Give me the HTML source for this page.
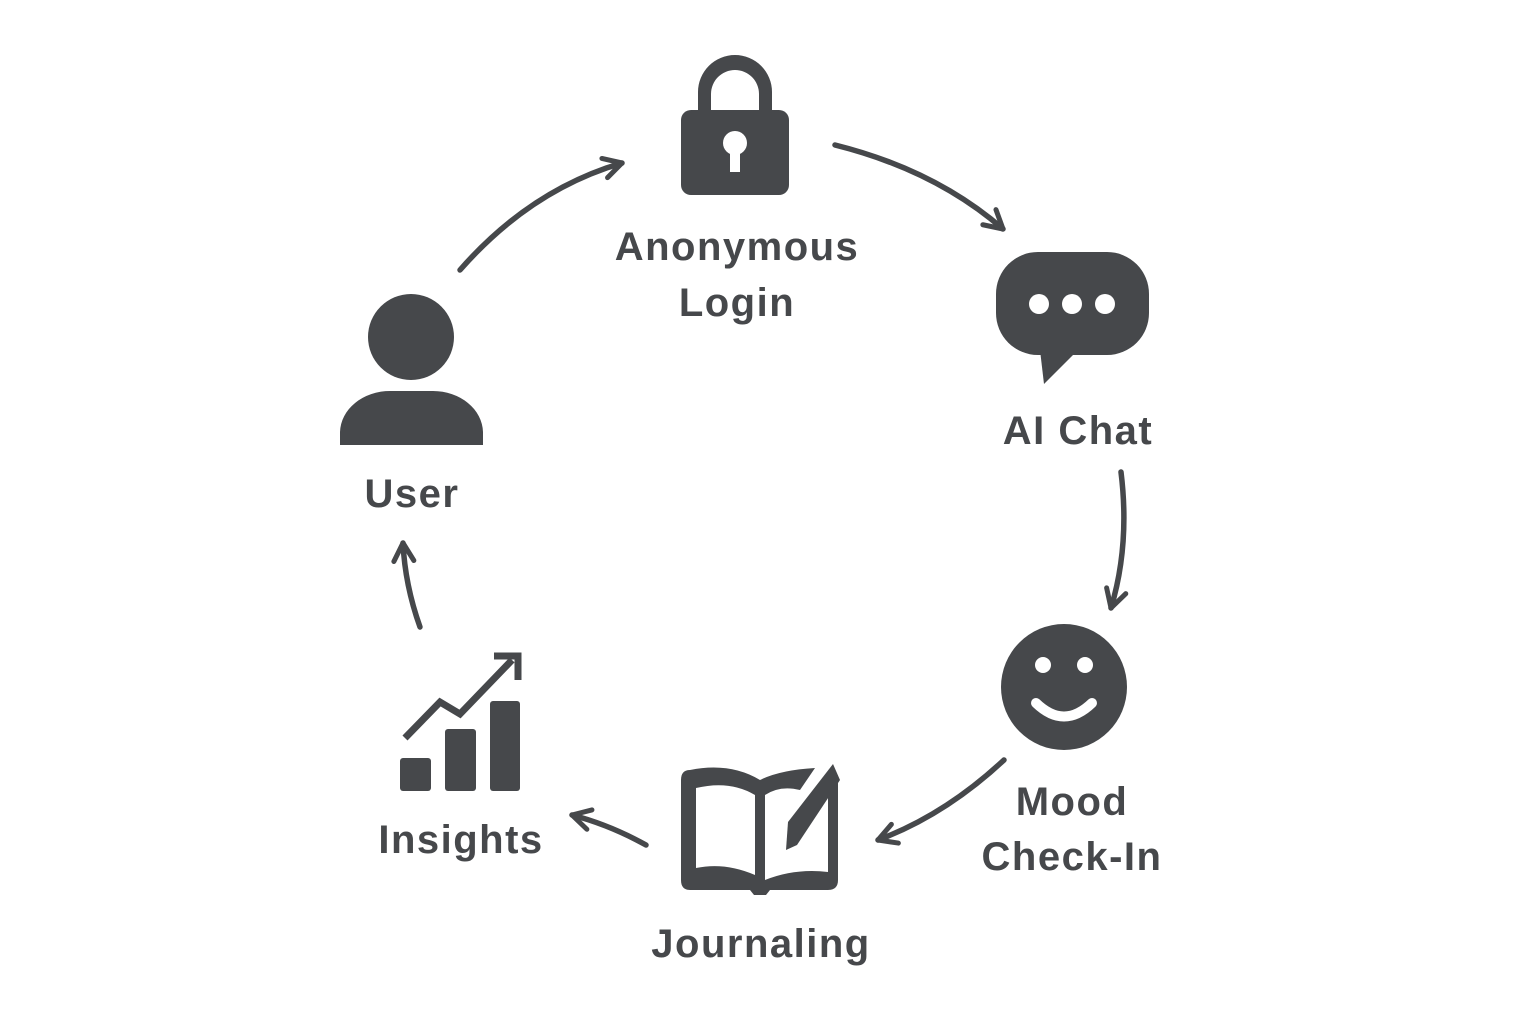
<!DOCTYPE html>
<html><head><meta charset="utf-8"><style>
html,body{margin:0;padding:0;background:#fff;}
svg{display:block;}
text{font-family:"Liberation Sans",sans-serif;font-weight:bold;fill:#46484b;font-size:40px;text-anchor:middle;letter-spacing:1.5px;}
</style></head><body>
<svg width="1536" height="1024" viewBox="0 0 1536 1024" xmlns="http://www.w3.org/2000/svg">
<defs>
<marker id="a" viewBox="0 0 26 26" refX="22" refY="13" markerWidth="26" markerHeight="26" markerUnits="userSpaceOnUse" orient="auto">
<path d="M4,3 L22,13 L4,23" fill="none" stroke="#46484b" stroke-width="5" stroke-linecap="round" stroke-linejoin="round"/>
</marker>
</defs>
<g fill="none" stroke="#46484b" stroke-width="5.5" stroke-linecap="round" marker-end="url(#a)">
<path d="M460,270 Q530,190 622,163"/>
<path d="M835,145 Q935,170 1003,229"/>
<path d="M1121,472 Q1130,545 1111,608"/>
<path d="M1004,760 Q945,815 878,840"/>
<path d="M646,845 Q610,825 572,815"/>
<path d="M420,627 Q405,585 403,543"/>
</g>
<g fill="#46484b">
<path d="M698,112 V92 A37,37 0 0 1 772,92 V112 H759 V94 A24,24 0 0 0 711,94 V112 Z"/>
<rect x="681" y="110" width="108" height="85" rx="10"/>
<rect x="996" y="252" width="153" height="103" rx="42"/>
<path d="M1040,350 L1044,384 L1078,350 Z"/>
<circle cx="1064" cy="687" r="63"/>
<circle cx="411" cy="337" r="43"/>
<path d="M340,445 V432 A50,42 0 0 1 390,391 H433 A50,42 0 0 1 483,432 V445 Z"/>
<rect x="400" y="758" width="31" height="33" rx="3"/>
<rect x="445" y="729" width="31" height="62" rx="3"/>
<rect x="490" y="701" width="30" height="90" rx="3"/>
<path d="M681,780 Q681,770 690,770 Q730,762 760,780 Q780,770 815,768 L800,790 Q780,785 765,795 V880 Q795,868 828,872 V790 L838,775 V880 Q838,890 828,890 H770 L766,895 H754 L750,890 H690 Q681,890 681,880 Z"/>
<path d="M833,764 L840,780 L797,845 L786,850 L788,822 Z"/>
</g>
<g fill="#fff">
<circle cx="735" cy="143" r="12"/>
<rect x="730" y="146" width="10" height="26"/>
<circle cx="1039" cy="304" r="10"/><circle cx="1072" cy="304" r="10"/><circle cx="1105" cy="304" r="10"/>
<circle cx="1043" cy="665" r="8"/><circle cx="1085" cy="665" r="8"/>
<path d="M696,788 Q730,780 755,795 V875 Q725,862 696,868 Z"/>
</g>
<path d="M1036,703 Q1064,730 1092,703" fill="none" stroke="#fff" stroke-width="10" stroke-linecap="round"/>
<polyline points="405,738 440,702 460,714 512,660" fill="none" stroke="#46484b" stroke-width="7"/>
<path d="M494,656 H518 V680" fill="none" stroke="#46484b" stroke-width="7"/>
<text x="737" y="260">Anonymous</text>
<text x="737" y="316">Login</text>
<text x="1078" y="444">AI Chat</text>
<text x="1072" y="815">Mood</text>
<text x="1072" y="870">Check-In</text>
<text x="761" y="957">Journaling</text>
<text x="461" y="853">Insights</text>
<text x="412" y="507">User</text>
</svg>
</body></html>
